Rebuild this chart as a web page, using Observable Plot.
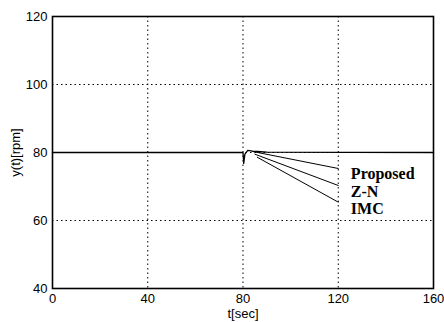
<!DOCTYPE html>
<html><head><meta charset="utf-8">
<script src="https://cdn.jsdelivr.net/npm/d3@7"></script>
<script src="https://cdn.jsdelivr.net/npm/@observablehq/plot@0.6"></script>
<style>
html,body{margin:0;padding:0;background:#fff;}
svg{font-family:"Liberation Sans",Arial,sans-serif;}
</style></head>
<body><div id="chart"></div>
<script>
const xTicks = [0, 40, 80, 120, 160];
const yTicks = [40, 60, 80, 100, 120];
// main speed response y(t)
const respT = [0, 80, 80.3, 80.8, 82, 84, 86, 90, 160];
const respY = [80, 80, 76.8, 79.5, 80.6, 80.4, 80.3, 80.1, 80];
// leader lines to labels
const seriesNames = ["Proposed", "Z-N", "IMC"];
const leaderT0 = [84, 85, 86];
const leaderY0 = [80.3, 79.5, 78.6];
const leaderT1 = [120, 120, 120];
const leaderY1 = [75.3, 70.3, 65.4];
const labelT = [125.3, 125.3, 125.3];
const labelY = [73.8, 68.4, 63.3];

const resp = respT.map((t, i) => ({t, y: respY[i]}));
const leaders = seriesNames.flatMap((name, i) => [
  {name, t: leaderT0[i], y: leaderY0[i]},
  {name, t: leaderT1[i], y: leaderY1[i]}
]);
const labels = seriesNames.map((name, i) => ({name, t: labelT[i], y: labelY[i]}));

const chart = Plot.plot({
  width: 444, height: 322,
  marginLeft: 52, marginRight: 11, marginTop: 16, marginBottom: 34,
  style: {fontFamily: '"Liberation Sans", Arial, sans-serif', fontSize: "13px", background: "#fff", color: "#000"},
  x: {domain: [0, 160], ticks: xTicks, label: "t[sec]", labelAnchor: "center", labelArrow: "none", tickSize: 0, tickPadding: 5, labelOffset: 29},
  y: {domain: [40, 120], ticks: yTicks, label: "y(t)[rpm]", labelAnchor: "center", labelArrow: "none", tickSize: 0, tickPadding: 5, labelOffset: 42},
  marks: [
    Plot.gridX(xTicks.slice(1, -1), {stroke: "#000", strokeOpacity: 1, strokeDasharray: "1.5,3"}),
    Plot.gridY(yTicks.slice(1, -1), {stroke: "#000", strokeOpacity: 1, strokeDasharray: "1.5,3"}),
    Plot.line(resp, {x: "t", y: "y", stroke: "#000", strokeWidth: 1.3}),
    Plot.line(leaders, {x: "t", y: "y", z: "name", stroke: "#000", strokeWidth: 1}),
    Plot.text(labels, {x: "t", y: "y", text: "name", textAnchor: "start", fontFamily: '"Liberation Serif", "Times New Roman", serif', fontWeight: "bold", fontSize: 16, fill: "#000"}),
    Plot.frame({stroke: "#000", strokeWidth: 1.6})
  ]
});
document.getElementById("chart").appendChild(chart);
</script></body></html>
